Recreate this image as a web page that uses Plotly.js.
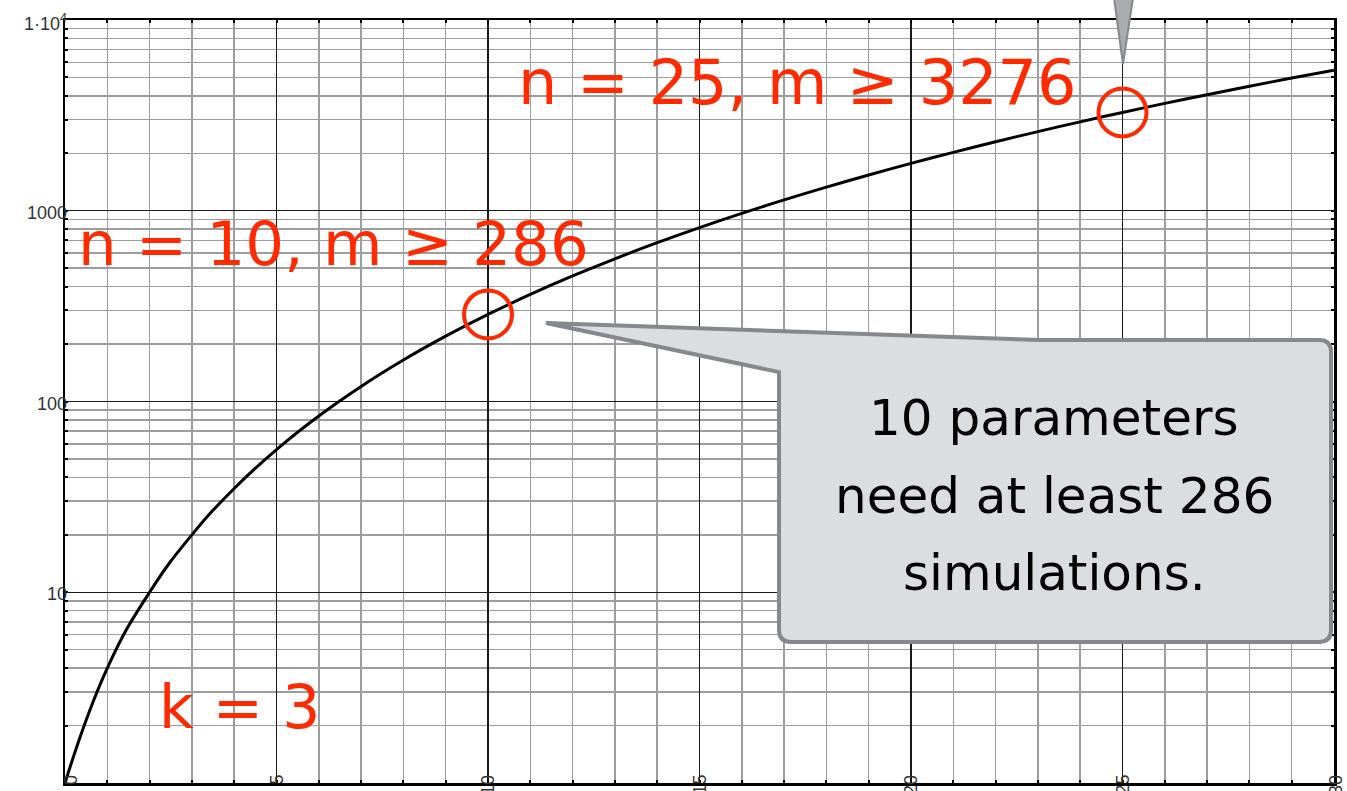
<!DOCTYPE html>
<html>
<head>
<meta charset="utf-8">
<script src="https://cdn.plot.ly/plotly-3.0.1.min.js"></script>
<style>
  html, body { margin: 0; padding: 0; overflow: hidden; background: #fff; }
  #chart { width: 1347px; height: 791px; }
</style>
</head>
<body>
<div id="chart"></div>
<script>
// Minimum number of simulations m for n parameters (k = 3)
const nParams = [0, 1, 2, 3, 4, 5, 6, 7, 8, 9, 10, 11, 12, 13, 14, 15,
                 16, 17, 18, 19, 20, 21, 22, 23, 24, 25, 26, 27, 28, 29, 30];
const minSims = [1, 4, 10, 20, 35, 56, 84, 120, 165, 220, 286, 364, 455, 560, 680, 816,
                 969, 1140, 1330, 1540, 1771, 2024, 2300, 2600, 2925, 3276, 3654, 4060, 4495, 4960, 5456];

// Highlighted cases
const markN = [10, 25];
const markM = [286, 3276];

// Axis tick labels
const xTickVals = [0, 5, 10, 15, 20, 25, 30];
const yTickVals = [10, 100, 1000, 10000];
const yTickText = ['10', '100', '1000', '1·10<sup>4</sup>'];

const RED = '#ff2a00';
const HAND = '"Comic Sans MS", "DejaVu Sans", sans-serif';
const tickFont = () => ({ family: 'Arial, sans-serif', size: 18, color: '#333' });

// plot area in pixels (used to place callout decorations in paper units)
const W = 1347, H = 791;
const M = { l: 65, r: 13, t: 20, b: 8 };
const PW = W - M.l - M.r, PH = H - M.t - M.b;
const px = x => (x - M.l) / PW;
const py = y => (H - M.b - y) / PH;

function roundedBubble(tip, box, r) {
  // speech bubble: wedge from tip into the top-left of a rounded box
  const [L, T, R, B] = box;
  const P = (x, y) => px(x).toFixed(5) + ',' + py(y).toFixed(5);
  return 'M' + P(tip[0], tip[1]) +
    ' L' + P(1040, T) +
    ' L' + P(R - r, T) +
    ' Q' + P(R, T) + ' ' + P(R, T + r) +
    ' L' + P(R, B - r) +
    ' Q' + P(R, B) + ' ' + P(R - r, B) +
    ' L' + P(L + r, B) +
    ' Q' + P(L, B) + ' ' + P(L, B - r) +
    ' L' + P(L, 372) + ' Z';
}

const traces = [
  {
    x: nParams, y: minSims,
    type: 'scatter', mode: 'lines',
    line: { color: '#000', width: 3, shape: 'spline', smoothing: 1.3 },
    hoverinfo: 'x+y'
  },
  {
    x: markN, y: markM,
    type: 'scatter', mode: 'markers',
    marker: { symbol: 'circle-open', size: 48, color: RED, line: { color: RED, width: 4 } },
    hoverinfo: 'x+y'
  }
];

const annotations = [];
xTickVals.forEach(v => annotations.push({
  x: v, xref: 'x', y: 0, yref: 'paper',
  text: String(v), showarrow: false, textangle: -90,
  xanchor: 'center', yanchor: 'top', yshift: 10, xshift: v === 0 ? 6 : (v === 30 ? 2 : 0),
  font: tickFont()
}));
yTickVals.forEach((v, i) => annotations.push({
  x: 0, xref: 'paper', y: Math.log10(v), yref: 'y',
  text: yTickText[i], showarrow: false,
  xanchor: 'right', yanchor: 'middle', xshift: 4, yshift: -2,
  font: tickFont()
}));

// red hand-written labels
annotations.push(
  { x: px(333), y: py(243), xref: 'paper', yref: 'paper', text: 'n = 10, m ≥ 286', showarrow: false,
    xanchor: 'center', yanchor: 'middle', font: { family: HAND, size: 61, color: RED } },
  { x: px(797), y: py(83), xref: 'paper', yref: 'paper', text: 'n = 25, m ≥ 3276', showarrow: false,
    xanchor: 'center', yanchor: 'middle', font: { family: HAND, size: 62, color: RED } },
  { x: px(239), y: py(707), xref: 'paper', yref: 'paper', text: 'k = 3', showarrow: false,
    xanchor: 'center', yanchor: 'middle', font: { family: HAND, size: 60, color: RED } }
);

// callout text
const calloutLines = ['10 parameters', 'need at least 286', 'simulations.'];
const calloutY = [418, 496, 573];
calloutLines.forEach((t, i) => annotations.push({
  x: px(1054), y: py(calloutY[i]), xref: 'paper', yref: 'paper', text: t, showarrow: false,
  xanchor: 'center', yanchor: 'middle', font: { family: HAND, size: 50, color: '#000' }
}));

const shapes = [
  {
    type: 'path', xref: 'paper', yref: 'paper', layer: 'above',
    path: roundedBubble([546, 323], [779, 340, 1331, 642], 12),
    fillcolor: '#dcdde0', line: { color: '#85888d', width: 4 }
  },
  {
    type: 'path', xref: 'paper', yref: 'paper', layer: 'above',
    path: 'M' + px(1114) + ',' + py(-2) + ' L' + px(1133) + ',' + py(-2) + ' L' + px(1123) + ',' + py(64) + ' Z',
    fillcolor: '#a9abaf', line: { color: '#85888d', width: 2 }
  }
];

const layout = {
  width: W, height: H,
  margin: M,
  paper_bgcolor: '#fff', plot_bgcolor: '#fff',
  showlegend: false,
  xaxis: {
    range: [0, 30], tick0: 0, dtick: 5,
    showgrid: true, gridcolor: '#1a1a1a', gridwidth: 1.2,
    zeroline: false, showticklabels: false,
    ticks: 'inside', ticklen: 3, tickwidth: 2, tickcolor: '#000',
    showline: true, linecolor: '#000', linewidth: 2.5, mirror: 'allticks',
    minor: { dtick: 1, tick0: 0, showgrid: true, gridcolor: '#9d9d9d', gridwidth: 1.5,
             ticks: 'inside', ticklen: 3, tickwidth: 2, tickcolor: '#000' }
  },
  yaxis: {
    type: 'log', range: [0, 4], dtick: 1,
    showgrid: true, gridcolor: '#1a1a1a', gridwidth: 1.2,
    zeroline: false, showticklabels: false,
    ticks: 'inside', ticklen: 3, tickwidth: 2, tickcolor: '#000',
    showline: true, linecolor: '#000', linewidth: 2.5, mirror: 'allticks',
    minor: { dtick: 'D1', showgrid: true, gridcolor: '#9d9d9d', gridwidth: 1.5,
             ticks: 'inside', ticklen: 3, tickwidth: 2, tickcolor: '#000' }
  },
  annotations: annotations,
  shapes: shapes
};

Plotly.newPlot('chart', traces, layout, { displayModeBar: false, staticPlot: true });
</script>
</body>
</html>
